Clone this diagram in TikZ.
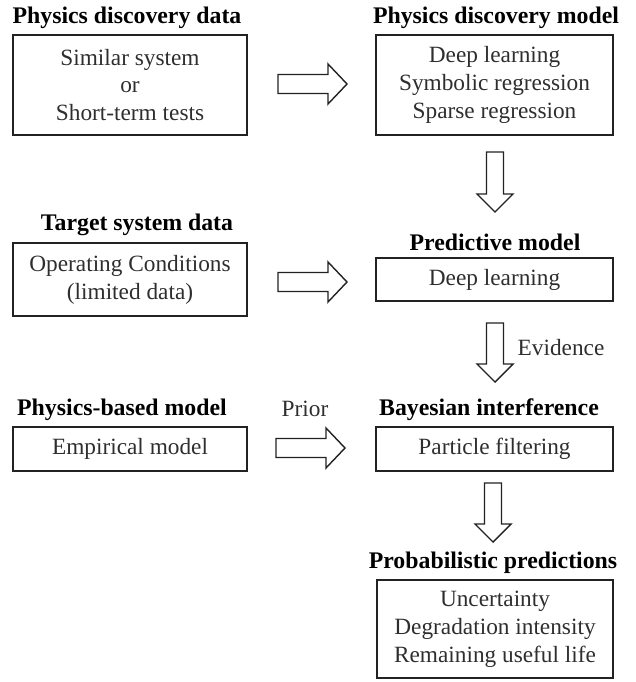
\documentclass[tikz,border=0pt]{standalone}
\usepackage{fontspec}
\setmainfont{Liberation Serif}
\usetikzlibrary{calc}
\definecolor{txt}{HTML}{2E2E2E}
\definecolor{ln}{HTML}{222222}
\tikzset{
  box/.style={draw=ln, line width=1.4pt, inner sep=0pt, text=txt, align=center,
    font=\fontsize{23.3}{27.8}\selectfont},
  ttl/.style={inner sep=0pt, text=black, font=\bfseries\fontsize{23.8}{27}\selectfont},
  lbl/.style={inner sep=0pt, text=txt, font=\fontsize{23.3}{27}\selectfont},
  blk/.style={draw=ln, line width=1.4pt, fill=white, line join=miter}
}
\newcommand{\blkRight}[2]{% tip x, tip y
  \draw[blk] (#1-69,#2-9.5) -- (#1-19,#2-9.5) -- (#1-19,#2-20) -- (#1,#2)
    -- (#1-19,#2+20) -- (#1-19,#2+9.5) -- (#1-69,#2+9.5) -- cycle;}
\newcommand{\blkDown}[3]{% centre x, top y, tip y
  \draw[blk] (#1-8.5,#2) -- (#1+8.5,#2) -- (#1+8.5,#3-18) -- (#1+18,#3-18) -- (#1,#3)
    -- (#1-18,#3-18) -- (#1-8.5,#3-18) -- cycle;}
\begin{document}
\begin{tikzpicture}[x=1pt,y=-1pt]
\useasboundingbox (0,0) rectangle (636,682);
% boxes
\node[box, minimum width=234pt, minimum height=100pt] (b1) at (130,85)
  {Similar system\\or\\Short-term tests};
\node[box, minimum width=237pt, minimum height=100pt] (b2) at (494.5,85)
  {Deep learning\\Symbolic regression\\Sparse regression};
\node[box, minimum width=234pt, minimum height=73pt] (b3) at (130,279.5)
  {Operating Conditions\\(limited data)};
\node[box, minimum width=237pt, minimum height=43pt] (b4) at (494.5,279.5)
  {Deep learning};
\node[box, minimum width=234pt, minimum height=44pt] (b5) at (130,449)
  {Empirical model};
\node[box, minimum width=237pt, minimum height=44pt] (b6) at (494.5,449)
  {Particle filtering};
\node[box, minimum width=236pt, minimum height=98pt] (b7) at (495,629)
  {Uncertainty\\Degradation intensity\\Remaining useful life};
% titles
\node[ttl] (t1) at (127,18) {Physics discovery data};
\node[ttl] (t2) at (496,18) {Physics discovery model};
\node[ttl] (t3) at (137,225) {Target system data};
\node[ttl] (t4) at (495,242) {Predictive model};
\node[ttl] (t5) at (122,410) {Physics-based model};
\node[ttl] (t6) at (489,410) {Bayesian interference};
\node[ttl] (t7) at (493,563) {Probabilistic predictions};
% labels
\node[lbl] (prior) at (305,409) {Prior};
\node[lbl] (evid) at (561,348) {Evidence};
% block arrows
\blkRight{347}{84}
\blkRight{347}{282}
\blkRight{345}{448}
\blkDown{495}{152}{212}
\blkDown{495}{323}{382}
\blkDown{493}{483}{542}
\end{tikzpicture}
\end{document}
